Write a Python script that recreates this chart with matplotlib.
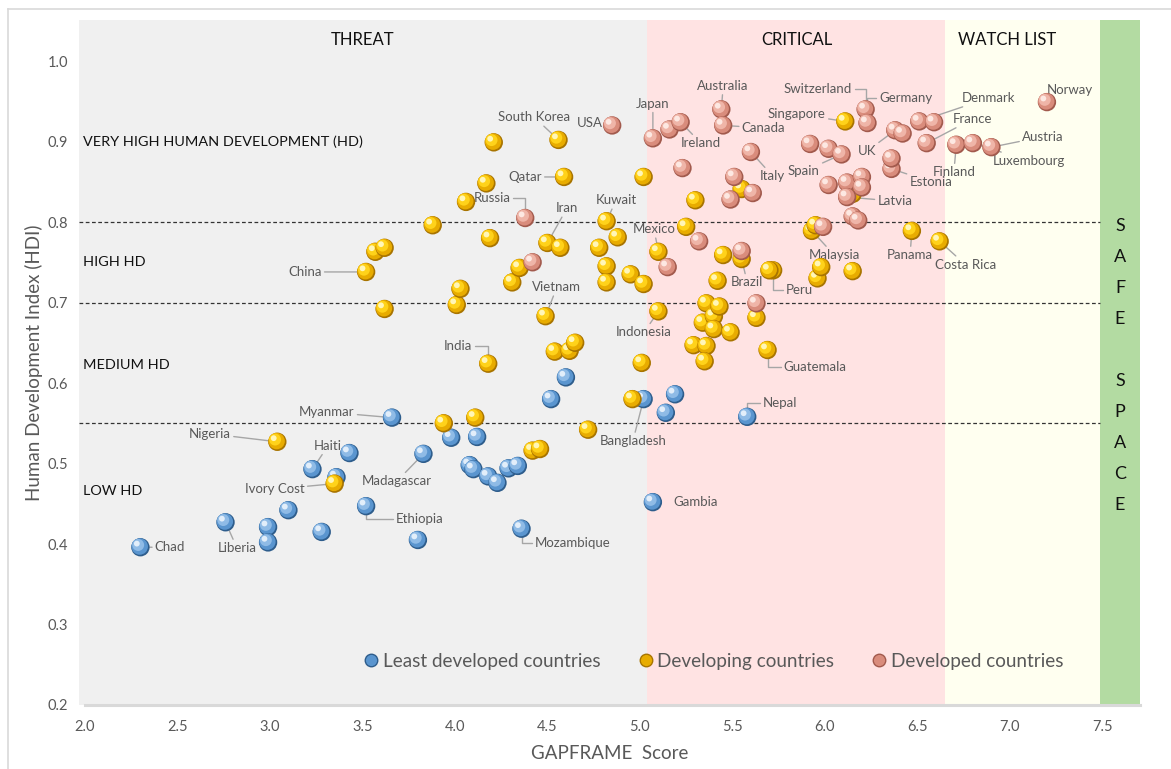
import matplotlib.pyplot as plt
from matplotlib import transforms
from matplotlib.lines import Line2D
from matplotlib.patches import Rectangle

# ---------------------------------------------------------------------------
# Data: GAPFRAME score (x) vs Human Development Index (y)
# ---------------------------------------------------------------------------
LDC_NAMES = [
    "Chad", "Liberia", "", "", "", "", "Haiti", "", "", "Ethiopia",
    "Myanmar", "", "Madagascar", "", "", "", "", "", "", "",
    "", "Mozambique", "", "", "Bangladesh", "", "", "Nepal", "Gambia",
]
LDC_X = [
    2.30, 2.76, 2.99, 2.99, 3.10, 3.28, 3.23, 3.43, 3.36, 3.52,
    3.66, 3.80, 3.83, 3.98, 4.12, 4.08, 4.10, 4.18, 4.23, 4.29,
    4.34, 4.36, 4.52, 4.60, 5.02, 5.19, 5.14, 5.58, 5.07,
]
LDC_Y = [
    0.396, 0.427, 0.421, 0.402, 0.442, 0.415, 0.493, 0.513, 0.483, 0.447,
    0.557, 0.405, 0.512, 0.532, 0.533, 0.498, 0.493, 0.484, 0.476, 0.494,
    0.497, 0.419, 0.580, 0.607, 0.580, 0.586, 0.563, 0.558, 0.452,
]

DEV_NAMES = [
    "Nigeria", "Ivory Cost", "China", "", "", "", "", "", "", "",
    "", "", "", "India", "", "", "", "", "", "",
    "Vietnam", "Iran", "", "South Korea", "", "Qatar", "", "", "", "",
    "Kuwait", "", "", "", "", "", "", "", "", "Indonesia",
    "Mexico", "", "", "", "", "", "", "", "", "",
    "", "", "", "Brazil", "", "", "Guatemala", "Peru", "", "",
    "Malaysia", "", "", "", "Singapore", "", "Panama", "Costa Rica", "",
]
DEV_X = [
    3.04, 3.35, 3.52, 3.57, 3.62, 3.62, 3.88, 3.94, 4.01, 4.03,
    4.06, 4.17, 4.11, 4.18, 4.19, 4.21, 4.31, 4.35, 4.42, 4.46,
    4.49, 4.50, 4.54, 4.56, 4.57, 4.59, 4.62, 4.65, 4.72, 4.78,
    4.82, 4.82, 4.82, 4.88, 4.95, 4.96, 5.01, 5.02, 5.02, 5.10,
    5.10, 5.25, 5.30, 5.29, 5.36, 5.35, 5.34, 5.36, 5.40, 5.40,
    5.43, 5.49, 5.42, 5.55, 5.45, 5.55, 5.69, 5.72, 5.70, 5.63,
    5.93, 5.95, 5.96, 5.98, 6.11, 6.15, 6.47, 6.62, 6.15,
]
DEV_Y = [
    0.527, 0.475, 0.738, 0.763, 0.768, 0.692, 0.796, 0.550, 0.697, 0.717,
    0.825, 0.848, 0.557, 0.624, 0.780, 0.899, 0.725, 0.743, 0.516, 0.518,
    0.683, 0.774, 0.639, 0.902, 0.768, 0.856, 0.640, 0.650, 0.542, 0.768,
    0.801, 0.745, 0.725, 0.781, 0.735, 0.580, 0.625, 0.856, 0.723, 0.689,
    0.763, 0.794, 0.827, 0.647, 0.646, 0.627, 0.675, 0.699, 0.683, 0.667,
    0.695, 0.663, 0.727, 0.754, 0.759, 0.841, 0.641, 0.740, 0.740, 0.681,
    0.789, 0.796, 0.730, 0.744, 0.925, 0.739, 0.789, 0.776, 0.835,
]

ADV_NAMES = [
    "Russia", "", "USA", "Japan", "", "Ireland", "", "", "", "Australia",
    "Canada", "", "", "Italy", "", "", "", "", "", "Spain",
    "", "", "", "", "", "Latvia", "", "", "Switzerland", "Germany",
    "UK", "", "Estonia", "", "Denmark", "", "France", "Finland", "Luxembourg", "Austria",
    "Norway",
]
ADV_X = [
    4.38, 4.42, 4.85, 5.07, 5.16, 5.22, 5.23, 5.15, 5.32, 5.44,
    5.45, 5.49, 5.51, 5.60, 5.61, 5.55, 5.63, 5.92, 6.02, 6.09,
    5.99, 6.02, 6.12, 6.20, 6.20, 6.12, 6.15, 6.18, 6.22, 6.23,
    6.38, 6.42, 6.36, 6.36, 6.51, 6.59, 6.55, 6.71, 6.80, 6.90,
    7.20,
]
ADV_Y = [
    0.805, 0.750, 0.920, 0.904, 0.915, 0.924, 0.867, 0.744, 0.776, 0.940,
    0.920, 0.828, 0.856, 0.887, 0.836, 0.764, 0.699, 0.897, 0.891, 0.884,
    0.794, 0.846, 0.849, 0.856, 0.843, 0.831, 0.807, 0.802, 0.940, 0.923,
    0.914, 0.910, 0.866, 0.879, 0.925, 0.924, 0.898, 0.896, 0.898, 0.893,
    0.949,
]

GROUPS = ["Least developed countries", "Developing countries", "Developed countries"]
ZONE_NAMES = ["THREAT", "CRITICAL", "WATCH LIST"]
HD_LABELS = ["VERY HIGH HUMAN DEVELOPMENT (HD)", "HIGH HD", "MEDIUM HD", "LOW HD"]
HD_CUTS = [0.8, 0.7, 0.55]
X_TICKS = [2.0, 2.5, 3.0, 3.5, 4.0, 4.5, 5.0, 5.5, 6.0, 6.5, 7.0, 7.5]
Y_TICKS = [0.2, 0.3, 0.4, 0.5, 0.6, 0.7, 0.8, 0.9, 1.0]

# ---------------------------------------------------------------------------
# Layout / style
# ---------------------------------------------------------------------------
XLIM = (1.968, 7.703)
YLIM = (0.2, 1.051)
ZONE_EDGES = [XLIM[0], 5.038, 6.649, 7.486, XLIM[1]]
ZONE_COLORS = ["#f0f0f0", "#ffe3e3", "#fffff0", "#b3dba2"]

SPHERE = {
    # dark rim, body, light, highlight
    "ldc": ("#2e5d8c", "#5a95cf", "#8fbbe6", "#e2eefa"),
    "dev": ("#a87400", "#e8ac00", "#ffd21a", "#fff6b8"),
    "adv": ("#a25a4d", "#d98c7c", "#efb5a8", "#fde8e2"),
}

# text position, alignment, leader style ("s" straight, "a" elbow, None)
LABEL_POS = {
    "China": (3.28, 0.738, "right", "s"),
    "South Korea": (4.43, 0.930, "center", "s"),
    "USA": (4.80, 0.923, "right", None),
    "Japan": (5.07, 0.947, "center", "s"),
    "Ireland": (5.33, 0.898, "center", "s"),
    "Australia": (5.45, 0.969, "center", "s"),
    "Canada": (5.55, 0.917, "left", "s"),
    "Italy": (5.65, 0.857, "left", "s"),
    "Qatar": (4.47, 0.856, "right", "s"),
    "Russia": (4.20, 0.830, "center", "a"),
    "Iran": (4.605, 0.817, "center", "s"),
    "Kuwait": (4.87, 0.827, "center", "s"),
    "Mexico": (5.076, 0.791, "center", "s"),
    "Brazil": (5.58, 0.725, "center", "s"),
    "Peru": (5.86, 0.716, "center", "a"),
    "Malaysia": (6.05, 0.759, "center", "s"),
    "Panama": (6.46, 0.759, "center", "s"),
    "Costa Rica": (6.76, 0.747, "center", "s"),
    "Switzerland": (6.146, 0.965, "right", "a"),
    "Germany": (6.292, 0.954, "left", "a"),
    "Singapore": (6.005, 0.934, "right", "s"),
    "Denmark": (6.741, 0.954, "left", "s"),
    "France": (6.692, 0.928, "left", "s"),
    "UK": (6.227, 0.888, "center", "s"),
    "Spain": (5.886, 0.863, "center", "s"),
    "Estonia": (6.573, 0.850, "center", "s"),
    "Latvia": (6.378, 0.826, "center", "s"),
    "Finland": (6.697, 0.862, "center", "s"),
    "Luxembourg": (7.103, 0.876, "center", "s"),
    "Austria": (7.178, 0.906, "center", "s"),
    "Norway": (7.324, 0.964, "center", None),
    "Guatemala": (5.946, 0.620, "center", "a"),
    "Nepal": (5.757, 0.575, "center", "a"),
    "Indonesia": (5.022, 0.663, "center", "s"),
    "Vietnam": (4.551, 0.719, "center", "s"),
    "India": (4.016, 0.646, "center", "a"),
    "Bangladesh": (4.962, 0.528, "center", "s"),
    "Gambia": (5.303, 0.452, "center", None),
    "Mozambique": (4.638, 0.401, "center", "a"),
    "Ethiopia": (3.811, 0.431, "center", "a"),
    "Madagascar": (3.686, 0.478, "center", "s"),
    "Myanmar": (3.308, 0.564, "center", "s"),
    "Nigeria": (2.676, 0.537, "center", "s"),
    "Haiti": (3.314, 0.522, "center", "s"),
    "Ivory Cost": (3.027, 0.468, "center", "s"),
    "Liberia": (2.822, 0.395, "center", "s"),
    "Chad": (2.378, 0.396, "left", "s"),
}

TEXT_GRAY = "#595959"
LINE_GRAY = "#a6a6a6"

plt.rcParams["font.family"] = ["Lato", "DejaVu Sans"]


def draw_spheres(ax, xs, ys, shades, size=175, z0=3.0):
    """Fake a shaded ball by stacking offset circles, one point at a time."""
    fig = ax.figure
    layers = [(1.0, 0.0), (0.80, 0.5), (0.42, 1.6), (0.10, 2.6)]
    trans = [transforms.offset_copy(ax.transData, fig=fig, x=-d, y=d, units="points")
             for _, d in layers]
    for i, (x, y) in enumerate(zip(xs, ys)):
        z = z0 + i * 0.004
        for k, ((f, _), col) in enumerate(zip(layers, shades)):
            ax.scatter([x], [y], s=size * f, c=col, edgecolors="none",
                       transform=trans[k], zorder=z + k * 0.001)


def add_labels(ax, names, xs, ys):
    for name, x, y in zip(names, xs, ys):
        if not name:
            continue
        tx, ty, ha, style = LABEL_POS[name]
        props = None
        if style == "s":
            props = dict(arrowstyle="-", color=LINE_GRAY, lw=1.0, shrinkA=0, shrinkB=0)
        elif style == "a":
            props = dict(arrowstyle="-", color=LINE_GRAY, lw=1.0, shrinkA=0, shrinkB=0,
                         connectionstyle="angle,angleA=0,angleB=90,rad=0")
        ax.annotate(name, xy=(x, y), xytext=(tx, ty), ha=ha, va="center",
                    fontsize=9.5, color=TEXT_GRAY, arrowprops=props, zorder=2)


def main():
    fig = plt.figure(figsize=(11.71, 7.69), dpi=100)
    ax = fig.add_axes([79 / 1171, 1 - 705 / 769, (1140 - 79) / 1171, (705 - 20) / 769])

    # chart border (top and left visible in the source)
    fig.add_artist(Line2D([8 / 1171, 1.0], [1 - 9 / 769] * 2, color="#d9d9d9", lw=1.2))
    fig.add_artist(Line2D([8 / 1171] * 2, [0.0, 1 - 9 / 769], color="#d9d9d9", lw=1.2))

    # zone backgrounds
    for (x0, x1), col in zip(zip(ZONE_EDGES[:-1], ZONE_EDGES[1:]), ZONE_COLORS):
        ax.add_patch(Rectangle((x0, YLIM[0]), x1 - x0, YLIM[1] - YLIM[0],
                               facecolor=col, edgecolor="none", zorder=0))

    # HD category boundaries
    for yc in HD_CUTS:
        ax.plot([XLIM[0], ZONE_EDGES[3]], [yc, yc], color="#333333", lw=0.9,
                ls=(0, (3, 2)), zorder=1)

    # bottom axis line
    ax.plot([2.0, XLIM[1]], [0.2, 0.2], color="#d9d9d9", lw=2.2, zorder=1, clip_on=False)

    draw_spheres(ax, LDC_X, LDC_Y, SPHERE["ldc"], z0=3.0)
    draw_spheres(ax, DEV_X, DEV_Y, SPHERE["dev"], z0=4.0)
    draw_spheres(ax, ADV_X, ADV_Y, SPHERE["adv"], z0=5.0)

    add_labels(ax, LDC_NAMES, LDC_X, LDC_Y)
    add_labels(ax, DEV_NAMES, DEV_X, DEV_Y)
    add_labels(ax, ADV_NAMES, ADV_X, ADV_Y)

    # zone titles
    zone_mid = [3.503, 5.849, 6.984]
    for name, xm in zip(ZONE_NAMES, zone_mid):
        ax.text(xm, 1.026, name, ha="center", va="center", fontsize=12, color="#111111")

    # HD band captions
    for lab, yy in zip(HD_LABELS, [0.900, 0.750, 0.622, 0.466]):
        ax.text(1.989, yy, lab, ha="left", va="center", fontsize=10.4, color="#111111")

    ax.text(7.595, 0.622, "S\nA\nF\nE\n\nS\nP\nA\nC\nE", ha="center", va="center",
            fontsize=13, linespacing=2.15, color="#111111")

    ax.set_xlim(*XLIM)
    ax.set_ylim(*YLIM)
    ax.set_xticks(X_TICKS)
    ax.set_xticklabels([f"{v:.1f}" for v in X_TICKS])
    ax.set_yticks(Y_TICKS)
    ax.set_yticklabels([f"{v:.1f}" for v in Y_TICKS])
    ax.tick_params(length=0, labelsize=10.5, labelcolor=TEXT_GRAY)
    ax.tick_params(axis="x", pad=11)
    ax.tick_params(axis="y", pad=8)
    for sp in ax.spines.values():
        sp.set_visible(False)

    ax.set_xlabel("GAPFRAME  Score", fontsize=13.5, color=TEXT_GRAY)
    ax.set_ylabel("Human Development Index (HDI)", fontsize=13.5, color=TEXT_GRAY)
    ax.xaxis.set_label_coords(0.500, -0.058)
    ax.yaxis.set_label_coords(-0.034, 0.500)

    handles = [
        Line2D([], [], ls="none", marker="o", ms=9, mfc=SPHERE[k][1], mec=SPHERE[k][0], mew=1.0)
        for k in ("ldc", "dev", "adv")
    ]
    leg = ax.legend(handles, GROUPS, loc="center", bbox_to_anchor=(0.597, 0.064), ncol=3,
                    frameon=False, fontsize=13.6, handletextpad=0.1, columnspacing=1.9,
                    handlelength=1.0)
    for t in leg.get_texts():
        t.set_color(TEXT_GRAY)

    fig.savefig("out.png", dpi=100)
    plt.close(fig)


if __name__ == "__main__":
    main()
